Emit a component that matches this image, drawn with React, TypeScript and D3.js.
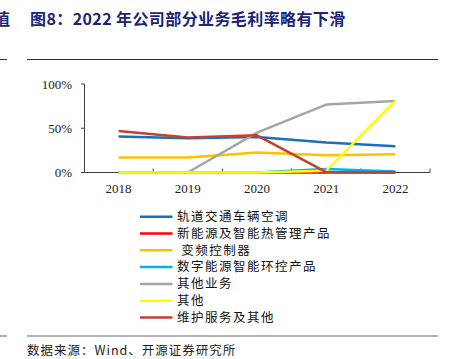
import React from "react";
import * as d3 from "d3";

const years = ["2018", "2019", "2020", "2021", "2022"];
const seriesNames = [
  "轨道交通车辆空调",
  "新能源及智能热管理产品",
  " 变频控制器",
  "数字能源智能环控产品",
  "其他业务",
  "其他",
  "维护服务及其他",
];
const seriesColors = ["#1a6fbd", "#ff0000", "#ffc000", "#00b0f0", "#a5a5a5", "#ffff00", "#c4412e"];
const railAC = [0.406, 0.388, 0.40, 0.338, 0.298];
const newEnergy = [0, 0, 0, 0, 0];
const inverter = [0.169, 0.17, 0.225, 0.196, 0.207];
const digitalEnergy = [0, 0, 0, 0.04, 0.01];
const otherBusiness = [0, 0, 0.45, 0.767, 0.808];
const other = [0, 0, 0, 0.02, 0.808];
const maintenance = [0.47, 0.395, 0.42, 0.005, 0.002];
const seriesValues = [railAC, newEnergy, inverter, digitalEnergy, otherBusiness, other, maintenance];
const yTicks = [0, 0.5, 1];

export default function App() {
  const W = 460, H = 359;
  const x = d3.scaleBand<string>().domain(years).range([84, 430]);
  const y = d3.scaleLinear().domain([0, 1]).range([172.5, 84]);
  const line = d3
    .line<number>()
    .x((_, i) => (x(years[i]) as number) + x.bandwidth() / 2)
    .y((d) => y(d));
  const serif = "'Liberation Serif', 'Times New Roman', serif";
  const cjk = "'Noto Sans CJK SC', sans-serif";
  return (
    <svg width={W} height={H} style={{ position: "absolute", left: 0, top: 0, background: "#fff" }}>
      <text x={-6} y={25} fontFamily={cjk} fontSize={16} fontWeight="bold" fill="#1c2478">值</text>
      <text x={30} y={25} fontFamily={cjk} fontSize={16} fontWeight="bold" fill="#1c2478" letterSpacing={0.4}>
        图8：2022 年公司部分业务毛利率略有下滑
      </text>
      <line x1={0} x2={7} y1={59.5} y2={59.5} stroke="#333" strokeWidth={1} />
      <line x1={27} x2={438} y1={59.5} y2={59.5} stroke="#333" strokeWidth={1} />

      {/* y axis */}
      <line x1={84.5} x2={84.5} y1={y(1)} y2={y(0)} stroke="#404040" strokeWidth={1} />
      {yTicks.map((t) => (
        <g key={t}>
          <line x1={81} x2={84.5} y1={y(t)} y2={y(t)} stroke="#404040" />
          <text x={72} y={y(t) + 4.5} textAnchor="end" fontFamily={serif} fontSize={13} fill="#222">
            {Math.round(t * 100)}%
          </text>
        </g>
      ))}
      {/* x axis */}
      <line x1={84.5} x2={430} y1={y(0)} y2={y(0)} stroke="#404040" strokeWidth={1} />
      {years.map((yr) => (
        <g key={yr}>
          <line
            x1={(x(yr) as number) + x.bandwidth()}
            x2={(x(yr) as number) + x.bandwidth()}
            y1={y(0)}
            y2={y(0) - 4}
            stroke="#404040"
          />
          <text
            x={(x(yr) as number) + x.bandwidth() / 2}
            y={193}
            textAnchor="middle"
            fontFamily={serif}
            fontSize={13}
            fill="#222"
          >
            {yr}
          </text>
        </g>
      ))}

      {seriesValues.map((vals, i) => (
        <path
          key={i}
          d={line(vals) || ""}
          fill="none"
          stroke={seriesColors[i]}
          strokeWidth={2.5}
          strokeLinejoin="round"
        />
      ))}

      {seriesNames.map((name, i) => {
        const ly = 216.7 + i * 16.8;
        return (
          <g key={name}>
            <line x1={140} x2={172.5} y1={ly} y2={ly} stroke={seriesColors[i]} strokeWidth={2.5} />
            <text
              x={177}
              y={ly + 4.3}
              fontFamily={cjk}
              fontSize={12.5}
              letterSpacing={1.5}
              fill="#111"
              style={{ whiteSpace: "pre" }}
            >
              {name}
            </text>
          </g>
        );
      })}

      <line x1={0} x2={7} y1={336} y2={336} stroke="#999" strokeWidth={1.5} />
      <line x1={27} x2={438} y1={336} y2={336} stroke="#999" strokeWidth={1.5} />
      <text x={27} y={355} fontFamily={cjk} fontSize={12.5} letterSpacing={1} fill="#222">
        数据来源：Wind、开源证券研究所
      </text>
    </svg>
  );
}
